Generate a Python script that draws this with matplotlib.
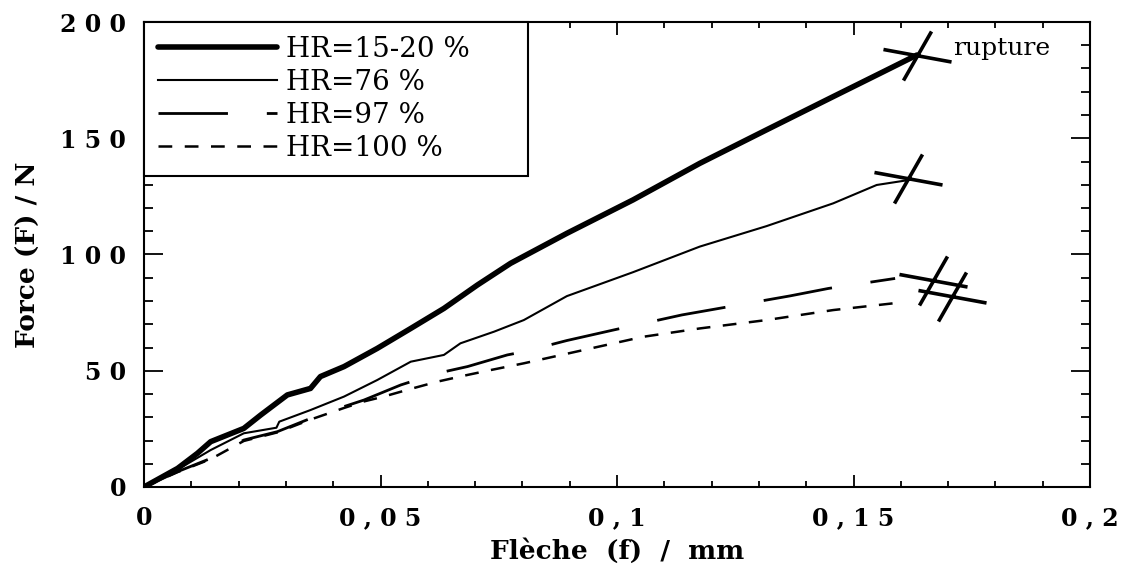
import matplotlib.pyplot as plt
from matplotlib.path import Path
from matplotlib.ticker import MultipleLocator, FuncFormatter

# values (deflection in mm, force in N)
x_hr15 = [0, 0.0071, 0.0113, 0.0141, 0.0211, 0.0247, 0.0303, 0.0352, 0.0373, 0.0423, 0.0493,
          0.0564, 0.0634, 0.0705, 0.0775, 0.0894, 0.1034, 0.1175, 0.1316, 0.1457, 0.1563, 0.1634]
f_hr15 = [0, 8.0, 14.5, 19.5, 25.2, 31.0, 39.6, 42.4, 47.5, 51.8, 59.6,
          68.2, 76.8, 86.9, 96.2, 109.1, 123.5, 139.2, 153.6, 167.9, 178.6, 185.8]

x_hr76 = [0, 0.0071, 0.0141, 0.0211, 0.0280, 0.0286, 0.0352, 0.0423, 0.0493, 0.0564, 0.0634,
          0.0669, 0.0740, 0.0803, 0.0894, 0.1034, 0.1175, 0.1316, 0.1457, 0.1549, 0.1619]
f_hr76 = [0, 7.5, 15.9, 23.1, 25.5, 28.1, 33.1, 38.9, 46.0, 53.9, 56.8,
          61.8, 66.8, 71.8, 82.1, 92.4, 103.4, 112.2, 122.0, 129.9, 132.1]

x_hr97 = [0, 0.0071, 0.0141, 0.0211, 0.0282, 0.0352, 0.0423, 0.0465, 0.0543, 0.0620, 0.0684,
          0.0768, 0.0803, 0.0894, 0.0992, 0.1137, 0.1218, 0.1366, 0.1447, 0.1588]
f_hr97 = [0, 6.6, 12.3, 20.2, 23.8, 29.5, 34.6, 37.4, 43.9, 48.9, 51.8,
          56.8, 58.2, 63.0, 67.5, 74.0, 76.9, 82.2, 85.4, 89.7]

x_hr100 = [0, 0.0071, 0.0141, 0.0211, 0.0282, 0.0352, 0.0423, 0.0465, 0.0507, 0.0564, 0.0620,
           0.0684, 0.0733, 0.0803, 0.1055, 0.1175, 0.1316, 0.1457, 0.1584]
f_hr100 = [0, 6.4, 12.0, 19.8, 23.5, 29.0, 34.0, 36.8, 38.9, 42.2, 45.3,
           48.2, 50.3, 53.2, 64.6, 68.2, 71.8, 76.1, 79.0]

labels = ["HR=15-20 %", "HR=76 %", "HR=97 %", "HR=100 %"]

# rupture points (crosses)
rupture_x = [0.1634, 0.1615, 0.1668, 0.1708]
rupture_f = [185.8, 132.9, 89.0, 82.2]

plt.rcParams['font.family'] = 'DejaVu Serif'

fig = plt.figure(figsize=(11.3, 5.67), dpi=100)
ax = fig.add_axes([144 / 1130, 1 - 487 / 567, 946 / 1130, 465 / 567])

ax.plot(x_hr15, f_hr15, color='black', lw=4, solid_capstyle='round', label=labels[0])
ax.plot(x_hr76, f_hr76, color='black', lw=1.5, label=labels[1])
ax.plot(x_hr97, f_hr97, color='black', lw=2, dashes=(25, 14), label=labels[2])
ax.plot(x_hr100, f_hr100, color='black', lw=1.8, dashes=(5.5, 5), label=labels[3])

# tilted cross used to mark the rupture
cross = Path([(-34, 6), (34, -6.5), (14, 24), (-14, -25)],
             [Path.MOVETO, Path.LINETO, Path.MOVETO, Path.LINETO])
ax.plot(rupture_x, rupture_f, ls='none', marker=cross, ms=49, mew=2.6,
        mec='black', mfc='none')
ax.annotate("rupture", (rupture_x[0], rupture_f[0]), xytext=(26, 5),
            textcoords='offset points', fontsize=18, va='center', ha='left')

ax.set_xlim(0, 0.2)
ax.set_ylim(0, 200)
ax.xaxis.set_major_locator(MultipleLocator(0.05))
ax.xaxis.set_minor_locator(MultipleLocator(0.01))
ax.yaxis.set_major_locator(MultipleLocator(50))
ax.yaxis.set_minor_locator(MultipleLocator(10))


def spaced(v, pos):
    s = ('%g' % v).replace('.', ',')
    return ' '.join(s)


ax.xaxis.set_major_formatter(FuncFormatter(spaced))
ax.yaxis.set_major_formatter(FuncFormatter(spaced))
ax.tick_params(which='both', direction='in', top=True, right=True, width=1.3)
ax.tick_params(axis='x', which='major', length=9, pad=14)
ax.tick_params(axis='x', which='minor', length=4.5)
ax.tick_params(axis='y', which='major', length=14, pad=13)
ax.tick_params(axis='y', which='minor', length=6.5)
for lab in ax.get_xticklabels() + ax.get_yticklabels():
    lab.set_fontsize(17)
    lab.set_fontweight('bold')
for sp in ax.spines.values():
    sp.set_linewidth(1.5)

ax.set_xlabel("Flèche  (f)  /  mm", fontsize=19, fontweight='bold', labelpad=6)
ax.set_ylabel("Force (F) / N", fontsize=19, fontweight='bold', labelpad=14)

leg = ax.legend(loc='upper left', bbox_to_anchor=(0, 0, 384 / 946, 1), mode='expand',
                borderaxespad=0, fontsize=20, handlelength=4.3, handletextpad=0.3,
                labelspacing=0.22, borderpad=0.5, fancybox=False, framealpha=1,
                edgecolor='black')
leg.get_frame().set_linewidth(1.5)

fig.savefig('out.png', dpi=100)
